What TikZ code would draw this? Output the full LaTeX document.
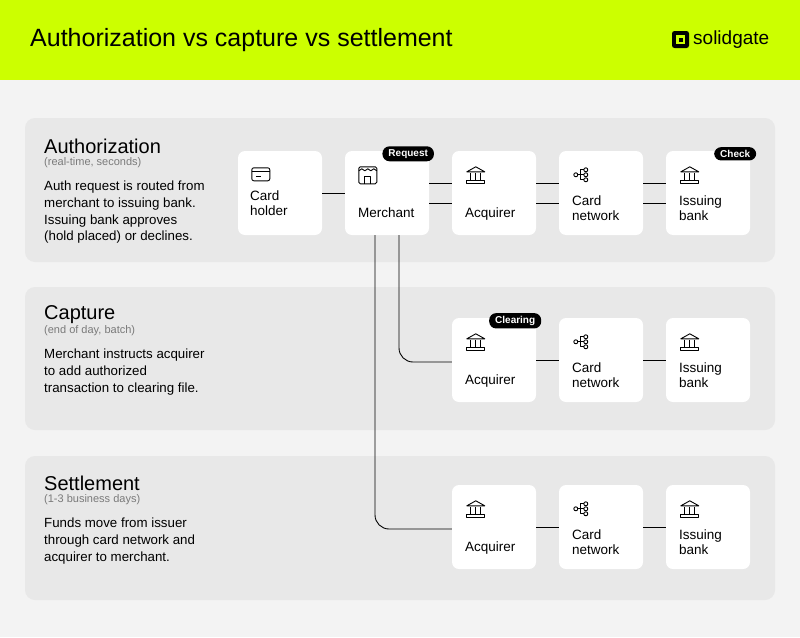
\documentclass[tikz,border=0pt]{standalone}
\usepackage{fontspec}
\setmainfont{Liberation Sans}
\usetikzlibrary{positioning}
\usetikzlibrary{calc}
\definecolor{lime}{HTML}{CCFF00}
\definecolor{pagebg}{HTML}{F3F3F3}
\definecolor{panelbg}{HTML}{E8E8E8}
\definecolor{subgray}{HTML}{7A7A7A}
\tikzset{
  panel/.style={fill=panelbg, rounded corners=10pt, draw=none},
  card/.style={fill=white, rounded corners=7pt, minimum width=84pt, minimum height=84pt, inner sep=0pt},
  lbl/.style={anchor=north west, align=left, font=\fontsize{13.5}{15}\selectfont, inner sep=0pt},
  badge/.style={fill=black, text=white, rounded corners=7pt, font=\bfseries\fontsize{10}{11}\selectfont, inner xsep=6pt, inner ysep=3pt},
  link/.style={line width=0.9pt},
  icon/.style={line width=0.9pt, line join=round},
  ptitle/.style={anchor=west, font=\fontsize{20}{21}\selectfont, inner sep=0pt},
  psub/.style={anchor=west, font=\fontsize{11}{12}\selectfont, text=subgray, inner sep=0pt},
  ptext/.style={anchor=north west, align=left, font=\fontsize{13.3}{16.7}\selectfont, inner sep=0pt},
}
\newcommand\bankicon[1]{%
  \begin{scope}[shift={(#1.north west)}]
    \draw[icon] (15,21) -- (24,16) -- (33,21) -- cycle;
    \draw[icon] (15,30) rectangle (33,33);
    \foreach \k in {0,1,2} \draw[icon] (19+5*\k,22) -- (19+5*\k,30);
  \end{scope}}
\newcommand\neticon[1]{%
  \begin{scope}[shift={(#1.north west)}]
    \draw[icon] (17,24) circle (2);
    \draw[icon] (19,24) -- (25,24) (22,24) |- (25,19) (22,24) |- (25,29);
    \foreach \dy in {19,24,29} \draw[icon] (27,\dy) circle (2);
  \end{scope}}
\begin{document}
\begin{tikzpicture}[x=1pt,y=-1pt]
  \useasboundingbox (0,0) rectangle (800,637);
  \fill[pagebg] (0,0) rectangle (800,637);
  \fill[lime] (0,0) rectangle (800,80);
  \node[anchor=west, font=\fontsize{25}{26}\selectfont, inner sep=0pt] (title) at (30,40) {Authorization vs capture vs settlement};
  % logo
  \fill[black, rounded corners=2.5pt] (672,31) rectangle (689,48);
  \fill[lime] (676,35) rectangle (685,44);
  \fill[black] (678.5,37.5) rectangle (682.5,41.5);
  \node[anchor=west, font=\fontsize{19}{20}\selectfont, inner sep=0pt] (logo) at (693,39.5) {solidgate};

  % panels
  \fill[panel] (25,118) rectangle (775,262);
  \fill[panel] (25,287) rectangle (775,430);
  \fill[panel] (25,456) rectangle (775,600);

  \node[ptitle] (t1) at (44,146) {Authorization};
  \node[psub] (s1) at (44,163) {(real-time, seconds)};
  \node[ptext] (d1) at (44,181) {Auth request is routed from\\merchant to issuing bank.\\Issuing bank approves\\(hold placed) or declines.};
  \node[ptitle] (t2) at (44,315) {Capture};
  \node[psub] (s2) at (44,331) {(end of day, batch)};
  \node[ptext] (d2) at (44,349) {Merchant instructs acquirer\\to add authorized\\transaction to clearing file.};
  \node[ptitle] (t3) at (44,483) {Settlement};
  \node[psub] (s3) at (44,500) {(1-3 business days)};
  \node[ptext] (d3) at (44,518) {Funds move from issuer\\through card network and\\acquirer to merchant.};

  % cards
  \node[card] (holder) at (280,193) {};
  \node[card] (merch) at (387,193) {};
  \node[card] (acq1) at (494,193) {};
  \node[card] (net1) at (601,193) {};
  \node[card] (iss1) at (708,193) {};
  \node[card] (acq2) at (494,360) {};
  \node[card] (net2) at (601,360) {};
  \node[card] (iss2) at (708,360) {};
  \node[card] (acq3) at (494,527) {};
  \node[card] (net3) at (601,527) {};
  \node[card] (iss3) at (708,527) {};

  \node[lbl] at ($(holder.north west)+(12,40)$) {Card\\holder};
  \node[lbl] at ($(merch.north west)+(13,57)$) {Merchant};
  \foreach \r in {1,2,3} {
    \node[lbl] at ($(acq\r.north west)+(13,57)$) {Acquirer};
    \node[lbl] at ($(net\r.north west)+(13,45)$) {Card\\network};
    \node[lbl] at ($(iss\r.north west)+(13,45)$) {Issuing\\bank};
    \bankicon{acq\r}
    \neticon{net\r}
    \bankicon{iss\r}
  }
  % card icon
  \begin{scope}[shift={(holder.north west)}]
    \draw[icon, rounded corners=2pt] (14,17) rectangle (32,30);
    \draw[icon] (14,21) -- (32,21) (18,26) -- (23,26);
  \end{scope}
  % shop icon
  \begin{scope}[shift={(merch.north west)}]
    \draw[icon, rounded corners=1.5pt] (14,16) rectangle (32,33);
    \draw[icon] (14,20) -- (17,18) -- (20,20) -- (23,18) -- (26,20) -- (29,18) -- (32,20);
    \draw[icon] (20,33) -- (20,26) -- (26,26) -- (26,33);
  \end{scope}

  % badges
  \node[badge] (breq) at ([xshift=-21pt,yshift=-3pt]merch.north east) {Request};
  \node[badge] (bchk) at ([xshift=-15pt,yshift=-3pt]iss1.north east) {Check};
  \node[badge] (bclr) at ([xshift=-21pt,yshift=-3pt]acq2.north east) {Clearing};

  % connectors
  \draw[link] (holder.east) -- (merch.west);
  \foreach \a/\b in {merch/acq1, acq1/net1, net1/iss1} {
    \draw[link] ([yshift=-10pt]\a.east) -- ([yshift=-10pt]\b.west);
    \draw[link] ([yshift=10pt]\a.east) -- ([yshift=10pt]\b.west);
  }
  \draw[link] (acq2) -- (net2) (net2) -- (iss2);
  \draw[link] (acq3) -- (net3) (net3) -- (iss3);
  \draw[link, rounded corners=14pt] ([xshift=12pt]merch.south) |- ([yshift=-2pt]acq2.west);
  \draw[link, rounded corners=14pt] ([xshift=-12pt]merch.south) |- ([yshift=-2pt]acq3.west);
\end{tikzpicture}
\end{document}
